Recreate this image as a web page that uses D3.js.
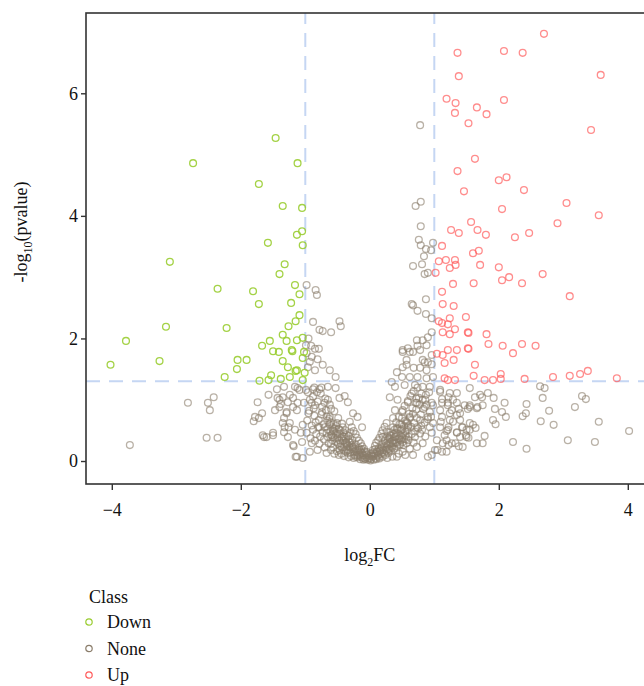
<!DOCTYPE html>
<html>
<head>
<meta charset="utf-8">
<script src="https://cdn.jsdelivr.net/npm/d3@7"></script>
<style>
  html, body { margin: 0; padding: 0; background: #fff; }
  svg { display: block; }
  text { font-family: "Liberation Serif", "DejaVu Serif", serif; fill: #111; }
</style>
</head>
<body>
<svg id="chart" width="644" height="686"></svg>
<script>
// ---- data (log2FC, -log10 pvalue) ----
const classes = ["Down", "None", "Up"];
const classColors = ["#9acd32", "#8b7d6b", "#ff5c5c"];
const xTicks = [-4, -2, 0, 2, 4];
const yTicks = [0, 2, 4, 6];
const fcCut = 1;
const pCut = 1.301;

const downPoints = [
[-2.74,4.86],[-1.46,5.27],[-1.12,4.86],[-1.72,4.52],[-1.35,4.16],[-1.05,4.13],[-1.13,3.69],[-1.05,3.75],
[-1.04,3.52],[-1.58,3.56],[-3.10,3.25],[-1.40,3.05],[-1.32,3.21],[-2.36,2.81],[-1.81,2.77],[-1.72,2.56],
[-1.16,2.87],[-1.09,2.72],[-1.22,2.58],[-1.09,2.38],[-1.15,2.28],[-1.26,2.20],[-3.16,2.19],[-2.22,2.17],
[-3.78,1.96],[-3.26,1.63],[-4.02,1.57],[-1.35,2.06],[-1.29,1.96],[-1.13,1.97],[-1.04,2.01],[-1.55,1.96],
[-1.67,1.88],[-1.50,1.79],[-1.41,1.78],[-1.21,1.81],[-1.20,1.79],[-1.02,1.78],[-1.35,1.63],[-1.27,1.53],
[-1.13,1.48],[-1.04,1.68],[-2.05,1.65],[-1.91,1.65],[-2.06,1.50],[-1.53,1.40],[-1.57,1.32],[-1.71,1.31],
[-1.24,1.37],[-1.04,1.32],[-2.25,1.37],[-1.01,1.44],[-1.38,1.34],[-1.15,1.47]
];

const upPoints = [
[2.70,6.97],[1.36,6.66],[2.08,6.69],[2.37,6.66],[1.38,6.28],[3.58,6.30],[1.19,5.91],[1.33,5.84],
[2.08,5.89],[1.66,5.77],[1.32,5.68],[1.81,5.66],[1.53,5.51],[3.43,5.40],[1.63,4.93],[1.36,4.73],
[2.00,4.58],[2.12,4.63],[2.39,4.42],[1.46,4.40],[3.05,4.21],[2.05,4.11],[3.55,4.01],[2.91,3.88],
[1.57,3.90],[1.26,3.77],[1.38,3.72],[1.67,3.77],[1.80,3.69],[2.25,3.65],[2.47,3.72],[1.12,3.51],
[1.60,3.39],[1.69,3.43],[1.07,3.26],[1.18,3.28],[1.32,3.28],[1.24,3.15],[1.33,3.20],[1.71,3.20],
[2.00,3.16],[1.02,3.07],[2.16,3.00],[2.05,2.95],[2.68,3.05],[2.36,2.90],[1.29,2.89],[1.61,2.90],
[3.10,2.69],[1.12,2.76],[1.13,2.56],[1.30,2.53],[1.07,2.28],[1.12,2.25],[1.24,2.33],[1.21,2.23],
[1.49,2.35],[1.32,2.15],[1.13,2.10],[1.24,2.07],[1.52,2.10],[1.53,2.09],[1.81,2.07],[1.84,1.91],
[2.06,1.88],[2.36,1.91],[2.57,1.88],[2.22,1.76],[1.52,1.84],[1.53,1.83],[1.21,1.81],[1.35,1.81],
[1.04,1.75],[1.13,1.73],[1.30,1.65],[1.16,1.60],[1.63,1.57],[1.61,1.39],[1.16,1.35],[1.32,1.32],
[1.78,1.32],[1.91,1.32],[2.03,1.42],[2.03,1.34],[2.40,1.34],[2.84,1.37],[3.10,1.39],[3.26,1.42],
[3.38,1.47],[3.83,1.35],[1.21,1.32]
];

const nonePoints = [
[-3.72,0.26],[-2.82,0.95],[-2.51,0.95],[-2.48,0.83],[-2.42,1.04],[-2.53,0.38],[-2.36,0.38],[-1.80,0.65],
[-1.72,0.70],[-1.67,0.78],[-1.74,0.96],[-1.57,1.08],[-1.64,0.39],[-1.60,0.39],[-1.50,0.42],[-1.40,1.00],
[-1.38,0.93],[-1.44,1.17],[-1.33,1.21],[-1.24,1.08],[-1.19,1.03],[-1.29,0.80],[-1.33,0.70],[-1.26,0.55],
[-1.33,0.47],[-1.18,0.24],[-1.15,0.07],[-1.05,0.31],[-1.07,0.46],[-1.04,0.59],[-1.13,0.83],[-1.12,0.95],
[-1.09,1.16],[-1.16,1.21],
[-0.98,2.87],[-0.84,2.79],[-0.82,2.71],[-0.88,2.27],[-0.78,2.14],[-0.73,2.12],[-0.60,2.10],[-0.47,2.28],
[-0.45,2.20],[-0.91,1.88],[-0.85,1.83],[-0.79,1.83],[-0.90,1.70],[-0.81,1.66],[-0.73,1.57],[-0.85,1.48],
[-0.62,1.48],[-0.53,1.37],[-0.96,1.53],[-0.98,1.76],[-0.99,1.89],[-0.95,2.00],[-0.93,1.62],
[-1.12,1.19],[-0.99,1.16],[-0.88,1.17],[-0.78,1.17],[-0.65,1.21],[-0.53,1.19],[-0.39,1.06],[-0.47,1.03],
[-0.34,0.96],[-0.26,0.78],[-0.19,0.72],[-0.31,0.64],[-0.12,0.55],[-0.42,0.55],[-0.51,0.62],[-0.62,0.72],
[-0.74,0.80],[-0.85,0.91],[-0.93,1.00],[-1.02,0.95],[-1.19,0.88],[-1.27,0.96],[-1.35,1.04],[-1.43,1.03],
[-1.29,0.78],[-1.24,0.62],[-1.32,0.55],[-1.16,0.51],[-0.98,0.46],[-0.88,0.51],[-0.78,0.55],[-0.67,0.46],
[-0.57,0.39],[-0.47,0.34],[-0.36,0.29],[-0.26,0.23],[-0.16,0.18],[-0.90,0.29],[-0.81,0.18],[-0.67,0.13],
[-0.93,0.15],[-1.04,0.05],[-1.19,0.26],[-1.13,0.07],[-1.50,0.46],[-1.66,0.42],[-1.40,0.88],[-1.47,0.83],
[-1.35,0.62],[-1.27,0.39],[-1.78,0.72],
[-0.03,0.02],[-0.05,0.06],[-0.07,0.03],[-0.09,0.09],[-0.11,0.05],[-0.12,0.13],[-0.14,0.07],[-0.16,0.11],
[-0.17,0.21],[-0.19,0.06],[-0.21,0.15],[-0.22,0.27],[-0.24,0.10],[-0.26,0.19],[-0.27,0.34],[-0.29,0.08],
[-0.31,0.22],[-0.33,0.41],[-0.34,0.13],[-0.36,0.27],[-0.38,0.50],[-0.39,0.17],[-0.41,0.33],[-0.43,0.61],
[-0.44,0.12],[-0.46,0.24],[-0.47,0.44],[-0.49,0.70],[-0.51,0.16],[-0.52,0.31],[-0.54,0.53],[-0.55,0.81],
[-0.57,0.22],[-0.59,0.42],[-0.60,0.63],[-0.62,0.92],[-0.64,0.29],[-0.66,0.52],[-0.67,0.73],[-0.69,1.02],
[-0.71,0.35],[-0.72,0.60],[-0.74,0.88],[-0.76,1.10],[-0.77,0.40],[-0.79,0.67],[-0.81,0.97],[-0.83,0.44],
[-0.86,0.74],[-0.88,1.05],[-0.90,0.58],[-0.92,0.37],[-0.94,0.82],[-0.96,1.12],[-0.97,0.66],
[-0.04,0.10],[-0.08,0.16],[-0.10,0.02],[-0.13,0.19],[-0.15,0.03],[-0.18,0.14],[-0.20,0.09],[-0.23,0.20],
[-0.25,0.05],[-0.28,0.26],[-0.30,0.14],[-0.32,0.31],[-0.35,0.19],[-0.37,0.36],[-0.40,0.23],[-0.42,0.40],
[-0.45,0.29],[-0.48,0.52],[-0.50,0.37],[-0.53,0.45],[-0.56,0.60],[-0.58,0.34],[-0.61,0.48],[-0.63,0.69],
[-0.65,0.39],[-0.68,0.83],[-0.70,0.55],[-0.73,0.47],[-0.75,0.76],[-0.80,0.55],[-0.84,0.63],[-0.87,0.86],
[0.02,0.03],[0.04,0.07],[0.06,0.02],[0.07,0.12],[0.09,0.05],[0.11,0.16],[0.12,0.08],[0.14,0.21],
[0.15,0.04],[0.17,0.12],[0.18,0.27],[0.20,0.07],[0.21,0.18],[0.23,0.33],[0.24,0.10],[0.26,0.22],
[0.27,0.40],[0.29,0.13],[0.30,0.28],[0.32,0.47],[0.33,0.16],[0.35,0.33],[0.36,0.55],[0.38,0.20],
[0.39,0.39],[0.41,0.63],[0.42,0.24],[0.44,0.45],[0.45,0.72],[0.47,0.27],[0.48,0.50],[0.50,0.80],
[0.51,0.31],[0.53,0.57],[0.54,0.90],[0.56,0.35],[0.57,0.64],[0.59,0.98],[0.60,0.40],[0.62,0.70],
[0.63,1.06],[0.65,0.44],[0.67,0.77],[0.68,1.14],[0.70,0.48],[0.72,0.84],[0.74,1.20],[0.75,0.53],
[0.77,0.92],[0.80,0.58],[0.82,1.00],[0.85,0.63],[0.87,1.08],[0.90,0.68],[0.93,0.80],[0.96,0.95],
[0.03,0.09],[0.05,0.14],[0.08,0.19],[0.10,0.03],[0.13,0.10],[0.16,0.16],[0.19,0.22],[0.22,0.12],
[0.25,0.29],[0.28,0.19],[0.31,0.36],[0.34,0.24],[0.37,0.44],[0.40,0.31],[0.43,0.52],[0.46,0.37],
[0.49,0.60],[0.52,0.44],[0.55,0.66],[0.58,0.50],[0.61,0.77],[0.64,0.56],[0.66,0.86],[0.69,0.62],
[0.71,0.95],[0.73,0.70],[0.76,1.03],[0.79,0.76],[0.83,0.85],[0.88,0.92],
[-0.02,0.05],[0.01,0.01],[0.00,0.04],[-0.01,0.08],[0.02,0.12],[-0.06,0.13],[0.05,0.18],[-0.09,0.20],
[0.08,0.25],[-0.12,0.24],[0.10,0.30],[-0.14,0.29],[0.13,0.34],[-0.17,0.33],[0.15,0.38],[-0.20,0.38],
[0.18,0.45],[-0.22,0.44],[0.20,0.50],[-0.25,0.49],[0.23,0.56],[-0.28,0.55],[0.26,0.48],[-0.30,0.47],
[0.28,0.35],[-0.33,0.35],[0.30,0.20],[-0.36,0.43],[0.33,0.42],[-0.38,0.30],[0.36,0.29],[-0.41,0.47],
[0.38,0.51],[-0.44,0.38],[0.41,0.40],[-0.46,0.50],[0.44,0.36],[-0.49,0.28],[0.46,0.60],[-0.52,0.57],
[0.48,0.42],[-0.55,0.48],[0.50,0.52],[-0.58,0.55],[0.53,0.36],[-0.60,0.28],[0.55,0.48],[-0.63,0.60],
[0.58,0.62],[-0.66,0.66],[0.60,0.58],[-0.05,0.15],[0.06,0.08],[-0.08,0.04],[0.09,0.11],[-0.11,0.10],
[0.12,0.15],[-0.14,0.15],[0.14,0.06],[-0.17,0.09],[0.17,0.20],[-0.19,0.18],[0.19,0.14],[-0.22,0.07],
[0.22,0.24],[-0.24,0.15],[0.25,0.17],[-0.27,0.22],[0.27,0.26],[-0.30,0.30],[0.30,0.38],[-0.32,0.18],
[0.32,0.30],[-0.35,0.24],[0.35,0.22],[-0.37,0.15],[0.37,0.34],[-0.40,0.40],[0.40,0.46],[-0.43,0.22],
[0.42,0.30],[-0.47,0.18],[0.45,0.26],[-0.50,0.44],[0.48,0.34],[-0.54,0.38],[0.52,0.26],[-0.57,0.50],
[0.56,0.42],[-0.60,0.42],[0.60,0.34],
[-0.70,0.95],[-0.82,1.12],[-0.90,0.95],[-0.95,0.78],[-0.60,0.85],[-0.65,1.00],[-0.75,1.20],[-0.86,1.20],
[0.65,1.10],[0.72,1.02],[0.80,1.10],[0.86,1.00],[0.92,1.12],[0.95,0.72],[0.93,0.55],[0.86,0.40],
[0.78,0.45],[0.68,0.30],[0.62,0.20],[0.55,0.10],[0.45,0.12],[0.42,0.07],[0.35,0.07],[0.27,0.05],
[-0.33,0.06],[-0.40,0.08],[-0.48,0.10],[-0.55,0.12],[-0.60,0.18],[-0.70,0.22],[-0.78,0.28],[-0.85,0.33],
[0.78,5.48],[0.79,4.23],[0.71,4.16],[0.79,3.83],[0.76,3.61],[0.79,3.52],[0.87,3.46],[0.95,3.44],
[0.98,3.56],[0.84,3.34],[0.67,3.18],[0.81,3.21],[0.85,3.05],[0.90,3.07],[0.87,2.64],[0.67,2.54],
[0.74,2.45],[0.87,2.40],[0.96,2.33],[0.96,2.10],[0.90,2.02],[0.82,1.97],[0.73,1.97],[0.59,1.84],
[0.74,1.88],[0.88,1.89],[0.51,1.78],[0.67,1.78],[0.85,1.61],[0.96,1.58],[0.57,1.57],[0.68,1.52],
[0.65,2.56],[0.62,1.78],[0.51,1.81],[0.78,1.81],[0.82,1.65],[0.90,1.61],[0.96,1.73],[0.57,1.65],
[0.51,1.53],[0.78,1.52],[0.88,1.48],[0.42,1.45],[0.50,1.37],[0.62,1.37],[0.74,1.37],[0.88,1.35],
[0.98,1.37],[0.34,1.29],[0.39,1.21],[0.54,1.24],[0.70,1.24],[0.82,1.21],[0.93,1.21],
[1.09,1.16],[1.24,1.11],[1.55,1.19],[1.71,1.08],[1.83,1.11],[1.92,1.03],[2.09,0.95],[0.31,1.04],
[0.43,1.00],[0.59,0.96],[0.73,0.95],[0.85,0.88],[0.98,0.91],[1.12,0.95],[1.21,0.95],[1.35,0.95],
[1.47,0.91],[1.27,0.83],[1.40,0.78],[1.55,0.88],[1.66,0.86],[1.12,0.72],[1.24,0.67],[1.09,0.55],
[1.21,0.51],[1.35,0.46],[1.44,0.55],[1.55,0.51],[1.50,0.39],[1.66,0.29],[1.44,0.23],[1.27,0.29],
[1.13,0.29],[1.19,0.15],[1.01,0.18],[0.90,0.07],[1.04,0.34],[0.96,0.46],[0.98,0.62],[0.90,0.72],
[0.78,0.67],[0.81,0.51],[0.70,0.39],[0.73,0.55],[0.59,0.55],[0.62,0.72],[0.50,0.70],[0.51,0.83],
[0.39,0.83],[0.36,0.70],[0.26,0.62],[0.42,0.54],[0.50,0.39],[0.31,0.42],[0.20,0.39],[0.39,0.29],
[0.57,0.29],[0.73,0.23],[0.82,0.29],[0.51,0.15],[0.67,0.10],[0.31,0.18],[0.16,0.18],
[2.64,1.22],[2.71,1.19],[2.43,0.93],[2.68,1.03],[3.29,1.06],[3.35,1.01],[3.18,0.88],[2.78,0.82],
[2.42,0.78],[2.37,0.73],[2.65,0.65],[2.85,0.59],[3.55,0.64],[4.02,0.49],[3.07,0.34],[3.49,0.31],
[2.22,0.31],[2.43,0.20],[2.11,0.72],[2.05,0.80],[1.94,0.85],[1.91,0.67],[1.95,0.60],[1.78,0.41],
[1.75,0.29],[1.60,0.59],[1.64,0.54],[1.55,0.62],[1.50,0.51],[1.49,0.42],[1.53,0.38],[1.67,0.88],
[1.75,0.91],[1.74,1.04],[1.63,1.04],[1.55,0.91],[1.52,0.85],[1.38,0.85],[1.35,0.75],[1.40,0.67],
[1.43,0.55],[1.35,0.47],[1.40,0.39],[1.33,0.29],[1.38,0.24],[1.19,0.34],[1.22,0.26],[1.16,0.42],
[1.19,0.49],[1.22,0.55],[1.29,0.64],[1.24,0.78],[1.21,0.91],[1.29,1.00],[1.22,1.04],[1.35,1.11],
[1.09,1.13],[1.12,1.01],[1.09,0.83],[1.10,0.64],[1.05,0.18],[1.12,0.15],[0.96,0.10]
];

// ---- layout ----
const svg = d3.select("#chart");
const x = d3.scaleLinear().domain([-4.4, 4.4]).range([86, 653.6]);
const y = d3.scaleLinear().domain([-0.375, 7.31]).range([484, 13]);
const color = d3.scaleOrdinal().domain(classes).range(classColors);
const fontSize = 18;

svg.append("defs").append("clipPath").attr("id", "panel")
  .append("rect").attr("x", x.range()[0]).attr("y", y.range()[1])
  .attr("width", x.range()[1] - x.range()[0]).attr("height", y.range()[0] - y.range()[1]);

// threshold lines
const guides = svg.append("g").attr("clip-path", "url(#panel)")
  .attr("stroke", "#c5d6f3").attr("stroke-width", 2).attr("stroke-dasharray", "14,9").attr("fill", "none");
[-fcCut, fcCut].forEach(v => guides.append("line")
  .attr("x1", x(v)).attr("x2", x(v)).attr("y1", y.range()[0]).attr("y2", y.range()[1]));
guides.append("line").attr("x1", x.range()[0]).attr("x2", x.range()[1])
  .attr("y1", y(pCut)).attr("y2", y(pCut));

// points
const pts = svg.append("g").attr("clip-path", "url(#panel)").attr("fill", "none").attr("stroke-width", 1.3);
function drawSet(data, cls, opacity) {
  pts.append("g").selectAll("circle").data(data).join("circle")
    .attr("cx", d => x(d[0])).attr("cy", d => y(d[1])).attr("r", 3.4)
    .attr("stroke", color(cls)).attr("stroke-opacity", opacity);
}
drawSet(nonePoints, "None", 0.6);
drawSet(downPoints, "Down", 0.9);
drawSet(upPoints, "Up", 0.7);

// panel border
svg.append("rect").attr("x", x.range()[0]).attr("y", y.range()[1])
  .attr("width", x.range()[1] - x.range()[0]).attr("height", y.range()[0] - y.range()[1])
  .attr("fill", "none").attr("stroke", "#333").attr("stroke-width", 1.6);

// axes
const xAxis = svg.append("g").attr("transform", `translate(0,${y.range()[0]})`)
  .call(d3.axisBottom(x).tickValues(xTicks).tickSize(6).tickPadding(13).tickSizeOuter(0));
const yAxis = svg.append("g").attr("transform", `translate(${x.range()[0]},0)`)
  .call(d3.axisLeft(y).tickValues(yTicks).tickSize(5).tickPadding(3).tickSizeOuter(0));
[xAxis, yAxis].forEach(a => {
  a.select(".domain").remove();
  a.selectAll(".tick line").attr("stroke", "#333").attr("stroke-width", 1.4);
  a.selectAll(".tick text").attr("font-size", fontSize)
    .attr("font-family", '"Liberation Serif", serif').attr("fill", "#111");
});

// axis titles
const xt = svg.append("text").attr("x", x(0)).attr("y", 561).attr("text-anchor", "middle")
  .attr("font-size", fontSize);
xt.append("tspan").text("log");
xt.append("tspan").attr("font-size", 12).attr("dy", 5).text("2");
xt.append("tspan").attr("dy", -5).text("FC");

const yt = svg.append("text").attr("transform", "translate(27,232) rotate(-90)")
  .attr("text-anchor", "middle").attr("font-size", fontSize);
yt.append("tspan").text("-log");
yt.append("tspan").attr("font-size", 12).attr("dy", 5).text("10");
yt.append("tspan").attr("dy", -5).text("(pvalue)");

// legend
const lg = svg.append("g").attr("transform", "translate(89,0)");
lg.append("text").attr("x", 0).attr("y", 603).attr("font-size", fontSize).text("Class");
classes.forEach((c, i) => {
  const cy = 622 + i * 26.5;
  lg.append("circle").attr("cx", 0).attr("cy", cy).attr("r", 3.2)
    .attr("fill", "none").attr("stroke", color(c)).attr("stroke-width", 1.2);
  lg.append("text").attr("x", 18).attr("y", cy + 6).attr("font-size", fontSize).text(c);
});
</script>
</body>
</html>
